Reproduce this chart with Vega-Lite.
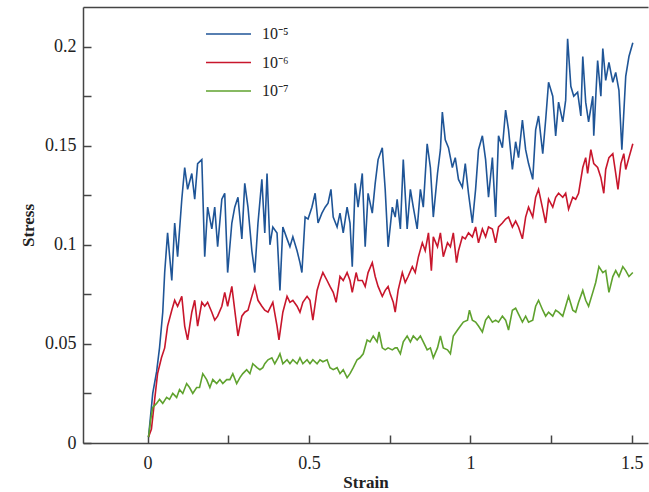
{
  "$schema": "https://vega.github.io/schema/vega-lite/v6.json",
  "width": 565,
  "height": 436,
  "padding": {"left": 19, "top": 7, "right": 1, "bottom": 0},
  "autosize": {"type": "pad"},
  "config": {
    "font": "Liberation Serif",
    "view": {"stroke": null},
    "axis": {
      "grid": false,
      "domainColor": "#444444",
      "domainWidth": 1.5,
      "tickColor": "#444444",
      "tickWidth": 1.5,
      "labelColor": "#222222",
      "titleColor": "#222222",
      "labelFont": "Liberation Serif",
      "titleFont": "Liberation Serif",
      "labelFontSize": 18,
      "titleFontSize": 17,
      "titleFontWeight": "bold"
    }
  },
  "data": {
    "values": [
      {"s":"10⁻⁵","x":0.003,"y":0.003},{"s":"10⁻⁵","x":0.016,"y":0.025},{"s":"10⁻⁵","x":0.028,"y":0.036},{"s":"10⁻⁵","x":0.037,"y":0.048},{"s":"10⁻⁵","x":0.047,"y":0.066},{"s":"10⁻⁵","x":0.053,"y":0.086},{"s":"10⁻⁵","x":0.062,"y":0.106},{"s":"10⁻⁵","x":0.075,"y":0.082},{"s":"10⁻⁵","x":0.084,"y":0.111},{"s":"10⁻⁵","x":0.093,"y":0.094},{"s":"10⁻⁵","x":0.106,"y":0.123},{"s":"10⁻⁵","x":0.115,"y":0.139},{"s":"10⁻⁵","x":0.124,"y":0.128},{"s":"10⁻⁵","x":0.137,"y":0.136},{"s":"10⁻⁵","x":0.146,"y":0.123},{"s":"10⁻⁵","x":0.155,"y":0.141},{"s":"10⁻⁵","x":0.168,"y":0.143},{"s":"10⁻⁵","x":0.177,"y":0.094},{"s":"10⁻⁵","x":0.186,"y":0.119},{"s":"10⁻⁵","x":0.199,"y":0.108},{"s":"10⁻⁵","x":0.208,"y":0.119},{"s":"10⁻⁵","x":0.217,"y":0.099},{"s":"10⁻⁵","x":0.230,"y":0.123},{"s":"10⁻⁵","x":0.239,"y":0.126},{"s":"10⁻⁵","x":0.248,"y":0.086},{"s":"10⁻⁵","x":0.261,"y":0.111},{"s":"10⁻⁵","x":0.270,"y":0.119},{"s":"10⁻⁵","x":0.280,"y":0.124},{"s":"10⁻⁵","x":0.292,"y":0.103},{"s":"10⁻⁵","x":0.301,"y":0.131},{"s":"10⁻⁵","x":0.311,"y":0.119},{"s":"10⁻⁵","x":0.323,"y":0.097},{"s":"10⁻⁵","x":0.332,"y":0.086},{"s":"10⁻⁵","x":0.342,"y":0.111},{"s":"10⁻⁵","x":0.354,"y":0.133},{"s":"10⁻⁵","x":0.363,"y":0.106},{"s":"10⁻⁵","x":0.370,"y":0.136},{"s":"10⁻⁵","x":0.379,"y":0.100},{"s":"10⁻⁵","x":0.388,"y":0.109},{"s":"10⁻⁵","x":0.401,"y":0.106},{"s":"10⁻⁵","x":0.410,"y":0.077},{"s":"10⁻⁵","x":0.419,"y":0.109},{"s":"10⁻⁵","x":0.432,"y":0.103},{"s":"10⁻⁵","x":0.441,"y":0.099},{"s":"10⁻⁵","x":0.450,"y":0.104},{"s":"10⁻⁵","x":0.463,"y":0.097},{"s":"10⁻⁵","x":0.472,"y":0.091},{"s":"10⁻⁵","x":0.478,"y":0.086},{"s":"10⁻⁵","x":0.488,"y":0.114},{"s":"10⁻⁵","x":0.497,"y":0.113},{"s":"10⁻⁵","x":0.509,"y":0.119},{"s":"10⁻⁵","x":0.519,"y":0.126},{"s":"10⁻⁵","x":0.528,"y":0.111},{"s":"10⁻⁵","x":0.540,"y":0.116},{"s":"10⁻⁵","x":0.550,"y":0.119},{"s":"10⁻⁵","x":0.559,"y":0.121},{"s":"10⁻⁵","x":0.568,"y":0.128},{"s":"10⁻⁵","x":0.575,"y":0.114},{"s":"10⁻⁵","x":0.587,"y":0.109},{"s":"10⁻⁵","x":0.596,"y":0.116},{"s":"10⁻⁵","x":0.606,"y":0.106},{"s":"10⁻⁵","x":0.618,"y":0.119},{"s":"10⁻⁵","x":0.627,"y":0.111},{"s":"10⁻⁵","x":0.634,"y":0.089},{"s":"10⁻⁵","x":0.643,"y":0.131},{"s":"10⁻⁵","x":0.652,"y":0.119},{"s":"10⁻⁵","x":0.665,"y":0.136},{"s":"10⁻⁵","x":0.674,"y":0.099},{"s":"10⁻⁵","x":0.683,"y":0.126},{"s":"10⁻⁵","x":0.696,"y":0.116},{"s":"10⁻⁵","x":0.705,"y":0.131},{"s":"10⁻⁵","x":0.714,"y":0.143},{"s":"10⁻⁵","x":0.727,"y":0.149},{"s":"10⁻⁵","x":0.736,"y":0.128},{"s":"10⁻⁵","x":0.745,"y":0.099},{"s":"10⁻⁵","x":0.758,"y":0.119},{"s":"10⁻⁵","x":0.767,"y":0.114},{"s":"10⁻⁵","x":0.773,"y":0.123},{"s":"10⁻⁵","x":0.783,"y":0.108},{"s":"10⁻⁵","x":0.792,"y":0.143},{"s":"10⁻⁵","x":0.804,"y":0.108},{"s":"10⁻⁵","x":0.814,"y":0.128},{"s":"10⁻⁵","x":0.823,"y":0.119},{"s":"10⁻⁵","x":0.835,"y":0.108},{"s":"10⁻⁵","x":0.845,"y":0.128},{"s":"10⁻⁵","x":0.854,"y":0.119},{"s":"10⁻⁵","x":0.866,"y":0.151},{"s":"10⁻⁵","x":0.876,"y":0.139},{"s":"10⁻⁵","x":0.885,"y":0.114},{"s":"10⁻⁵","x":0.898,"y":0.136},{"s":"10⁻⁵","x":0.907,"y":0.148},{"s":"10⁻⁵","x":0.913,"y":0.167},{"s":"10⁻⁵","x":0.922,"y":0.153},{"s":"10⁻⁵","x":0.932,"y":0.149},{"s":"10⁻⁵","x":0.944,"y":0.139},{"s":"10⁻⁵","x":0.953,"y":0.144},{"s":"10⁻⁵","x":0.963,"y":0.133},{"s":"10⁻⁵","x":0.975,"y":0.129},{"s":"10⁻⁵","x":0.984,"y":0.141},{"s":"10⁻⁵","x":0.994,"y":0.126},{"s":"10⁻⁵","x":1.006,"y":0.111},{"s":"10⁻⁵","x":1.016,"y":0.128},{"s":"10⁻⁵","x":1.025,"y":0.148},{"s":"10⁻⁵","x":1.037,"y":0.155},{"s":"10⁻⁵","x":1.047,"y":0.143},{"s":"10⁻⁵","x":1.056,"y":0.124},{"s":"10⁻⁵","x":1.068,"y":0.144},{"s":"10⁻⁵","x":1.078,"y":0.114},{"s":"10⁻⁵","x":1.087,"y":0.155},{"s":"10⁻⁵","x":1.099,"y":0.149},{"s":"10⁻⁵","x":1.109,"y":0.168},{"s":"10⁻⁵","x":1.118,"y":0.158},{"s":"10⁻⁵","x":1.130,"y":0.138},{"s":"10⁻⁵","x":1.140,"y":0.152},{"s":"10⁻⁵","x":1.149,"y":0.144},{"s":"10⁻⁵","x":1.161,"y":0.163},{"s":"10⁻⁵","x":1.171,"y":0.148},{"s":"10⁻⁵","x":1.180,"y":0.141},{"s":"10⁻⁵","x":1.193,"y":0.133},{"s":"10⁻⁵","x":1.202,"y":0.158},{"s":"10⁻⁵","x":1.211,"y":0.165},{"s":"10⁻⁵","x":1.224,"y":0.146},{"s":"10⁻⁵","x":1.233,"y":0.163},{"s":"10⁻⁵","x":1.242,"y":0.182},{"s":"10⁻⁵","x":1.255,"y":0.175},{"s":"10⁻⁵","x":1.264,"y":0.155},{"s":"10⁻⁵","x":1.273,"y":0.172},{"s":"10⁻⁵","x":1.286,"y":0.162},{"s":"10⁻⁵","x":1.295,"y":0.173},{"s":"10⁻⁵","x":1.301,"y":0.204},{"s":"10⁻⁵","x":1.311,"y":0.180},{"s":"10⁻⁵","x":1.320,"y":0.175},{"s":"10⁻⁵","x":1.332,"y":0.177},{"s":"10⁻⁵","x":1.342,"y":0.165},{"s":"10⁻⁵","x":1.348,"y":0.195},{"s":"10⁻⁵","x":1.357,"y":0.172},{"s":"10⁻⁵","x":1.366,"y":0.162},{"s":"10⁻⁵","x":1.379,"y":0.175},{"s":"10⁻⁵","x":1.382,"y":0.155},{"s":"10⁻⁵","x":1.394,"y":0.193},{"s":"10⁻⁵","x":1.404,"y":0.175},{"s":"10⁻⁵","x":1.410,"y":0.199},{"s":"10⁻⁵","x":1.419,"y":0.183},{"s":"10⁻⁵","x":1.429,"y":0.192},{"s":"10⁻⁵","x":1.441,"y":0.182},{"s":"10⁻⁵","x":1.450,"y":0.187},{"s":"10⁻⁵","x":1.460,"y":0.178},{"s":"10⁻⁵","x":1.469,"y":0.148},{"s":"10⁻⁵","x":1.481,"y":0.185},{"s":"10⁻⁵","x":1.491,"y":0.195},{"s":"10⁻⁵","x":1.503,"y":0.202},

      {"s":"10⁻⁶","x":0.003,"y":0.003},{"s":"10⁻⁶","x":0.012,"y":0.007},{"s":"10⁻⁶","x":0.022,"y":0.022},{"s":"10⁻⁶","x":0.031,"y":0.035},{"s":"10⁻⁶","x":0.043,"y":0.043},{"s":"10⁻⁶","x":0.053,"y":0.048},{"s":"10⁻⁶","x":0.062,"y":0.059},{"s":"10⁻⁶","x":0.075,"y":0.067},{"s":"10⁻⁶","x":0.084,"y":0.072},{"s":"10⁻⁶","x":0.093,"y":0.069},{"s":"10⁻⁶","x":0.106,"y":0.074},{"s":"10⁻⁶","x":0.115,"y":0.059},{"s":"10⁻⁶","x":0.124,"y":0.052},{"s":"10⁻⁶","x":0.137,"y":0.066},{"s":"10⁻⁶","x":0.146,"y":0.072},{"s":"10⁻⁶","x":0.155,"y":0.059},{"s":"10⁻⁶","x":0.168,"y":0.071},{"s":"10⁻⁶","x":0.177,"y":0.069},{"s":"10⁻⁶","x":0.186,"y":0.071},{"s":"10⁻⁶","x":0.199,"y":0.066},{"s":"10⁻⁶","x":0.208,"y":0.062},{"s":"10⁻⁶","x":0.217,"y":0.064},{"s":"10⁻⁶","x":0.230,"y":0.069},{"s":"10⁻⁶","x":0.239,"y":0.076},{"s":"10⁻⁶","x":0.248,"y":0.069},{"s":"10⁻⁶","x":0.261,"y":0.079},{"s":"10⁻⁶","x":0.270,"y":0.067},{"s":"10⁻⁶","x":0.280,"y":0.054},{"s":"10⁻⁶","x":0.292,"y":0.064},{"s":"10⁻⁶","x":0.301,"y":0.066},{"s":"10⁻⁶","x":0.311,"y":0.067},{"s":"10⁻⁶","x":0.323,"y":0.074},{"s":"10⁻⁶","x":0.332,"y":0.079},{"s":"10⁻⁶","x":0.342,"y":0.072},{"s":"10⁻⁶","x":0.354,"y":0.069},{"s":"10⁻⁶","x":0.363,"y":0.067},{"s":"10⁻⁶","x":0.373,"y":0.066},{"s":"10⁻⁶","x":0.388,"y":0.071},{"s":"10⁻⁶","x":0.401,"y":0.059},{"s":"10⁻⁶","x":0.407,"y":0.052},{"s":"10⁻⁶","x":0.419,"y":0.066},{"s":"10⁻⁶","x":0.432,"y":0.074},{"s":"10⁻⁶","x":0.441,"y":0.071},{"s":"10⁻⁶","x":0.450,"y":0.072},{"s":"10⁻⁶","x":0.463,"y":0.069},{"s":"10⁻⁶","x":0.472,"y":0.066},{"s":"10⁻⁶","x":0.481,"y":0.071},{"s":"10⁻⁶","x":0.494,"y":0.074},{"s":"10⁻⁶","x":0.503,"y":0.072},{"s":"10⁻⁶","x":0.512,"y":0.062},{"s":"10⁻⁶","x":0.525,"y":0.077},{"s":"10⁻⁶","x":0.534,"y":0.082},{"s":"10⁻⁶","x":0.543,"y":0.086},{"s":"10⁻⁶","x":0.556,"y":0.082},{"s":"10⁻⁶","x":0.565,"y":0.079},{"s":"10⁻⁶","x":0.575,"y":0.076},{"s":"10⁻⁶","x":0.584,"y":0.071},{"s":"10⁻⁶","x":0.596,"y":0.084},{"s":"10⁻⁶","x":0.606,"y":0.082},{"s":"10⁻⁶","x":0.618,"y":0.086},{"s":"10⁻⁶","x":0.627,"y":0.082},{"s":"10⁻⁶","x":0.634,"y":0.076},{"s":"10⁻⁶","x":0.646,"y":0.086},{"s":"10⁻⁶","x":0.652,"y":0.082},{"s":"10⁻⁶","x":0.665,"y":0.082},{"s":"10⁻⁶","x":0.674,"y":0.079},{"s":"10⁻⁶","x":0.683,"y":0.086},{"s":"10⁻⁶","x":0.696,"y":0.091},{"s":"10⁻⁶","x":0.705,"y":0.084},{"s":"10⁻⁶","x":0.714,"y":0.079},{"s":"10⁻⁶","x":0.727,"y":0.074},{"s":"10⁻⁶","x":0.736,"y":0.077},{"s":"10⁻⁶","x":0.745,"y":0.079},{"s":"10⁻⁶","x":0.752,"y":0.075},{"s":"10⁻⁶","x":0.761,"y":0.071},{"s":"10⁻⁶","x":0.767,"y":0.066},{"s":"10⁻⁶","x":0.776,"y":0.077},{"s":"10⁻⁶","x":0.789,"y":0.086},{"s":"10⁻⁶","x":0.798,"y":0.081},{"s":"10⁻⁶","x":0.807,"y":0.084},{"s":"10⁻⁶","x":0.820,"y":0.089},{"s":"10⁻⁶","x":0.829,"y":0.086},{"s":"10⁻⁶","x":0.839,"y":0.094},{"s":"10⁻⁶","x":0.851,"y":0.101},{"s":"10⁻⁶","x":0.860,"y":0.097},{"s":"10⁻⁶","x":0.870,"y":0.106},{"s":"10⁻⁶","x":0.879,"y":0.087},{"s":"10⁻⁶","x":0.885,"y":0.104},{"s":"10⁻⁶","x":0.898,"y":0.099},{"s":"10⁻⁶","x":0.907,"y":0.106},{"s":"10⁻⁶","x":0.916,"y":0.094},{"s":"10⁻⁶","x":0.929,"y":0.101},{"s":"10⁻⁶","x":0.938,"y":0.099},{"s":"10⁻⁶","x":0.947,"y":0.106},{"s":"10⁻⁶","x":0.957,"y":0.091},{"s":"10⁻⁶","x":0.963,"y":0.097},{"s":"10⁻⁶","x":0.975,"y":0.104},{"s":"10⁻⁶","x":0.984,"y":0.103},{"s":"10⁻⁶","x":0.994,"y":0.106},{"s":"10⁻⁶","x":1.006,"y":0.104},{"s":"10⁻⁶","x":1.016,"y":0.109},{"s":"10⁻⁶","x":1.025,"y":0.101},{"s":"10⁻⁶","x":1.037,"y":0.108},{"s":"10⁻⁶","x":1.047,"y":0.104},{"s":"10⁻⁶","x":1.056,"y":0.109},{"s":"10⁻⁶","x":1.068,"y":0.108},{"s":"10⁻⁶","x":1.078,"y":0.101},{"s":"10⁻⁶","x":1.087,"y":0.109},{"s":"10⁻⁶","x":1.099,"y":0.111},{"s":"10⁻⁶","x":1.109,"y":0.113},{"s":"10⁻⁶","x":1.118,"y":0.114},{"s":"10⁻⁶","x":1.130,"y":0.109},{"s":"10⁻⁶","x":1.140,"y":0.112},{"s":"10⁻⁶","x":1.149,"y":0.109},{"s":"10⁻⁶","x":1.161,"y":0.103},{"s":"10⁻⁶","x":1.171,"y":0.114},{"s":"10⁻⁶","x":1.180,"y":0.119},{"s":"10⁻⁶","x":1.193,"y":0.114},{"s":"10⁻⁶","x":1.202,"y":0.124},{"s":"10⁻⁶","x":1.211,"y":0.128},{"s":"10⁻⁶","x":1.224,"y":0.118},{"s":"10⁻⁶","x":1.233,"y":0.111},{"s":"10⁻⁶","x":1.242,"y":0.123},{"s":"10⁻⁶","x":1.255,"y":0.119},{"s":"10⁻⁶","x":1.264,"y":0.124},{"s":"10⁻⁶","x":1.273,"y":0.126},{"s":"10⁻⁶","x":1.286,"y":0.124},{"s":"10⁻⁶","x":1.295,"y":0.126},{"s":"10⁻⁶","x":1.304,"y":0.118},{"s":"10⁻⁶","x":1.317,"y":0.124},{"s":"10⁻⁶","x":1.326,"y":0.123},{"s":"10⁻⁶","x":1.335,"y":0.126},{"s":"10⁻⁶","x":1.348,"y":0.139},{"s":"10⁻⁶","x":1.357,"y":0.144},{"s":"10⁻⁶","x":1.363,"y":0.136},{"s":"10⁻⁶","x":1.373,"y":0.148},{"s":"10⁻⁶","x":1.382,"y":0.141},{"s":"10⁻⁶","x":1.394,"y":0.139},{"s":"10⁻⁶","x":1.404,"y":0.134},{"s":"10⁻⁶","x":1.413,"y":0.126},{"s":"10⁻⁶","x":1.419,"y":0.138},{"s":"10⁻⁶","x":1.429,"y":0.144},{"s":"10⁻⁶","x":1.441,"y":0.146},{"s":"10⁻⁶","x":1.450,"y":0.136},{"s":"10⁻⁶","x":1.457,"y":0.128},{"s":"10⁻⁶","x":1.466,"y":0.141},{"s":"10⁻⁶","x":1.475,"y":0.146},{"s":"10⁻⁶","x":1.481,"y":0.138},{"s":"10⁻⁶","x":1.491,"y":0.144},{"s":"10⁻⁶","x":1.503,"y":0.151},

      {"s":"10⁻⁷","x":0.003,"y":0.003},{"s":"10⁻⁷","x":0.010,"y":0.012},{"s":"10⁻⁷","x":0.016,"y":0.018},{"s":"10⁻⁷","x":0.028,"y":0.020},{"s":"10⁻⁷","x":0.037,"y":0.022},{"s":"10⁻⁷","x":0.047,"y":0.020},{"s":"10⁻⁷","x":0.059,"y":0.023},{"s":"10⁻⁷","x":0.068,"y":0.022},{"s":"10⁻⁷","x":0.078,"y":0.025},{"s":"10⁻⁷","x":0.090,"y":0.023},{"s":"10⁻⁷","x":0.099,"y":0.027},{"s":"10⁻⁷","x":0.109,"y":0.025},{"s":"10⁻⁷","x":0.121,"y":0.030},{"s":"10⁻⁷","x":0.130,"y":0.028},{"s":"10⁻⁷","x":0.140,"y":0.025},{"s":"10⁻⁷","x":0.152,"y":0.028},{"s":"10⁻⁷","x":0.161,"y":0.028},{"s":"10⁻⁷","x":0.171,"y":0.035},{"s":"10⁻⁷","x":0.183,"y":0.032},{"s":"10⁻⁷","x":0.193,"y":0.028},{"s":"10⁻⁷","x":0.202,"y":0.032},{"s":"10⁻⁷","x":0.214,"y":0.030},{"s":"10⁻⁷","x":0.224,"y":0.032},{"s":"10⁻⁷","x":0.233,"y":0.030},{"s":"10⁻⁷","x":0.245,"y":0.032},{"s":"10⁻⁷","x":0.255,"y":0.032},{"s":"10⁻⁷","x":0.264,"y":0.035},{"s":"10⁻⁷","x":0.276,"y":0.030},{"s":"10⁻⁷","x":0.286,"y":0.033},{"s":"10⁻⁷","x":0.295,"y":0.035},{"s":"10⁻⁷","x":0.307,"y":0.037},{"s":"10⁻⁷","x":0.317,"y":0.035},{"s":"10⁻⁷","x":0.326,"y":0.040},{"s":"10⁻⁷","x":0.339,"y":0.038},{"s":"10⁻⁷","x":0.348,"y":0.037},{"s":"10⁻⁷","x":0.357,"y":0.038},{"s":"10⁻⁷","x":0.363,"y":0.040},{"s":"10⁻⁷","x":0.373,"y":0.042},{"s":"10⁻⁷","x":0.385,"y":0.043},{"s":"10⁻⁷","x":0.394,"y":0.040},{"s":"10⁻⁷","x":0.404,"y":0.043},{"s":"10⁻⁷","x":0.410,"y":0.045},{"s":"10⁻⁷","x":0.419,"y":0.040},{"s":"10⁻⁷","x":0.432,"y":0.042},{"s":"10⁻⁷","x":0.441,"y":0.040},{"s":"10⁻⁷","x":0.450,"y":0.042},{"s":"10⁻⁷","x":0.463,"y":0.040},{"s":"10⁻⁷","x":0.472,"y":0.043},{"s":"10⁻⁷","x":0.481,"y":0.040},{"s":"10⁻⁷","x":0.494,"y":0.042},{"s":"10⁻⁷","x":0.503,"y":0.040},{"s":"10⁻⁷","x":0.512,"y":0.042},{"s":"10⁻⁷","x":0.525,"y":0.040},{"s":"10⁻⁷","x":0.534,"y":0.042},{"s":"10⁻⁷","x":0.543,"y":0.041},{"s":"10⁻⁷","x":0.556,"y":0.042},{"s":"10⁻⁷","x":0.565,"y":0.038},{"s":"10⁻⁷","x":0.575,"y":0.037},{"s":"10⁻⁷","x":0.587,"y":0.038},{"s":"10⁻⁷","x":0.596,"y":0.035},{"s":"10⁻⁷","x":0.606,"y":0.037},{"s":"10⁻⁷","x":0.618,"y":0.033},{"s":"10⁻⁷","x":0.627,"y":0.035},{"s":"10⁻⁷","x":0.637,"y":0.038},{"s":"10⁻⁷","x":0.649,"y":0.042},{"s":"10⁻⁷","x":0.658,"y":0.043},{"s":"10⁻⁷","x":0.668,"y":0.045},{"s":"10⁻⁷","x":0.680,"y":0.052},{"s":"10⁻⁷","x":0.689,"y":0.051},{"s":"10⁻⁷","x":0.699,"y":0.054},{"s":"10⁻⁷","x":0.711,"y":0.051},{"s":"10⁻⁷","x":0.717,"y":0.056},{"s":"10⁻⁷","x":0.727,"y":0.048},{"s":"10⁻⁷","x":0.736,"y":0.047},{"s":"10⁻⁷","x":0.745,"y":0.048},{"s":"10⁻⁷","x":0.758,"y":0.047},{"s":"10⁻⁷","x":0.767,"y":0.048},{"s":"10⁻⁷","x":0.773,"y":0.048},{"s":"10⁻⁷","x":0.783,"y":0.045},{"s":"10⁻⁷","x":0.792,"y":0.051},{"s":"10⁻⁷","x":0.804,"y":0.054},{"s":"10⁻⁷","x":0.814,"y":0.051},{"s":"10⁻⁷","x":0.823,"y":0.054},{"s":"10⁻⁷","x":0.835,"y":0.052},{"s":"10⁻⁷","x":0.845,"y":0.054},{"s":"10⁻⁷","x":0.854,"y":0.051},{"s":"10⁻⁷","x":0.866,"y":0.047},{"s":"10⁻⁷","x":0.876,"y":0.048},{"s":"10⁻⁷","x":0.885,"y":0.043},{"s":"10⁻⁷","x":0.898,"y":0.048},{"s":"10⁻⁷","x":0.907,"y":0.054},{"s":"10⁻⁷","x":0.916,"y":0.048},{"s":"10⁻⁷","x":0.929,"y":0.047},{"s":"10⁻⁷","x":0.938,"y":0.045},{"s":"10⁻⁷","x":0.947,"y":0.054},{"s":"10⁻⁷","x":0.960,"y":0.057},{"s":"10⁻⁷","x":0.969,"y":0.059},{"s":"10⁻⁷","x":0.978,"y":0.061},{"s":"10⁻⁷","x":0.991,"y":0.062},{"s":"10⁻⁷","x":0.997,"y":0.067},{"s":"10⁻⁷","x":1.006,"y":0.062},{"s":"10⁻⁷","x":1.016,"y":0.061},{"s":"10⁻⁷","x":1.025,"y":0.059},{"s":"10⁻⁷","x":1.037,"y":0.056},{"s":"10⁻⁷","x":1.047,"y":0.062},{"s":"10⁻⁷","x":1.056,"y":0.064},{"s":"10⁻⁷","x":1.068,"y":0.061},{"s":"10⁻⁷","x":1.078,"y":0.062},{"s":"10⁻⁷","x":1.087,"y":0.061},{"s":"10⁻⁷","x":1.099,"y":0.064},{"s":"10⁻⁷","x":1.109,"y":0.062},{"s":"10⁻⁷","x":1.118,"y":0.057},{"s":"10⁻⁷","x":1.130,"y":0.067},{"s":"10⁻⁷","x":1.140,"y":0.068},{"s":"10⁻⁷","x":1.149,"y":0.065},{"s":"10⁻⁷","x":1.161,"y":0.061},{"s":"10⁻⁷","x":1.171,"y":0.064},{"s":"10⁻⁷","x":1.180,"y":0.061},{"s":"10⁻⁷","x":1.193,"y":0.062},{"s":"10⁻⁷","x":1.202,"y":0.069},{"s":"10⁻⁷","x":1.211,"y":0.072},{"s":"10⁻⁷","x":1.224,"y":0.067},{"s":"10⁻⁷","x":1.233,"y":0.064},{"s":"10⁻⁷","x":1.242,"y":0.066},{"s":"10⁻⁷","x":1.255,"y":0.064},{"s":"10⁻⁷","x":1.264,"y":0.067},{"s":"10⁻⁷","x":1.273,"y":0.066},{"s":"10⁻⁷","x":1.286,"y":0.064},{"s":"10⁻⁷","x":1.295,"y":0.069},{"s":"10⁻⁷","x":1.304,"y":0.074},{"s":"10⁻⁷","x":1.317,"y":0.067},{"s":"10⁻⁷","x":1.326,"y":0.066},{"s":"10⁻⁷","x":1.335,"y":0.071},{"s":"10⁻⁷","x":1.348,"y":0.077},{"s":"10⁻⁷","x":1.357,"y":0.072},{"s":"10⁻⁷","x":1.366,"y":0.069},{"s":"10⁻⁷","x":1.379,"y":0.076},{"s":"10⁻⁷","x":1.388,"y":0.081},{"s":"10⁻⁷","x":1.398,"y":0.089},{"s":"10⁻⁷","x":1.410,"y":0.086},{"s":"10⁻⁷","x":1.419,"y":0.087},{"s":"10⁻⁷","x":1.429,"y":0.076},{"s":"10⁻⁷","x":1.441,"y":0.084},{"s":"10⁻⁷","x":1.450,"y":0.087},{"s":"10⁻⁷","x":1.460,"y":0.084},{"s":"10⁻⁷","x":1.472,"y":0.089},{"s":"10⁻⁷","x":1.481,"y":0.087},{"s":"10⁻⁷","x":1.491,"y":0.084},{"s":"10⁻⁷","x":1.503,"y":0.086}
    ]
  },
  "layer": [
    {
      "mark": {"type": "line", "strokeWidth": 1.6},
      "encoding": {
        "x": {
          "field": "x", "type": "quantitative",
          "scale": {"domain": [-0.2, 1.55], "nice": false, "zero": false},
          "axis": {
            "orient": "bottom",
            "title": "Strain",
            "values": [0, 0.25, 0.5, 0.75, 1, 1.25, 1.5],
            "tickSize": -8,
            "labelExpr": "abs(datum.value*2-round(datum.value*2))<0.001 ? format(datum.value, '.1~f') : ''",
            "labelPadding": 19,
            "titlePadding": 2
          }
        },
        "y": {
          "field": "y", "type": "quantitative",
          "scale": {"domain": [0, 0.22], "nice": false},
          "axis": {
            "title": "Stress",
            "values": [0, 0.025, 0.05, 0.075, 0.1, 0.125, 0.15, 0.175, 0.2],
            "tickSize": -8,
            "labelExpr": "abs(datum.value*20-round(datum.value*20))<0.001 ? format(datum.value, '.2~f') : ''",
            "labelPadding": 15,
            "titlePadding": 7
          }
        },
        "color": {
          "field": "s", "type": "nominal",
          "scale": {"domain": ["10⁻⁵", "10⁻⁶", "10⁻⁷"], "range": ["#1f5597", "#c8162c", "#5fa22e"]},
          "legend": {
            "title": null,
            "orient": "none",
            "legendX": 122,
            "legendY": 14,
            "symbolType": "stroke",
            "symbolSize": 2025,
            "symbolStrokeWidth": 1.6,
            "labelFontSize": 16,
            "labelFont": "Liberation Serif",
            "labelColor": "#222222",
            "labelOffset": 10,
            "clipHeight": 26,
            "rowPadding": 2.5,
            "padding": 0
          }
        }
      }
    },
    {
      "mark": {"type": "point", "opacity": 0},
      "encoding": {
        "x": {
          "field": "x", "type": "quantitative",
          "axis": {"orient": "top", "title": null, "labels": false, "ticks": false, "domain": true}
        }
      }
    }
  ],
  "resolve": {"axis": {"x": "independent"}}
}
